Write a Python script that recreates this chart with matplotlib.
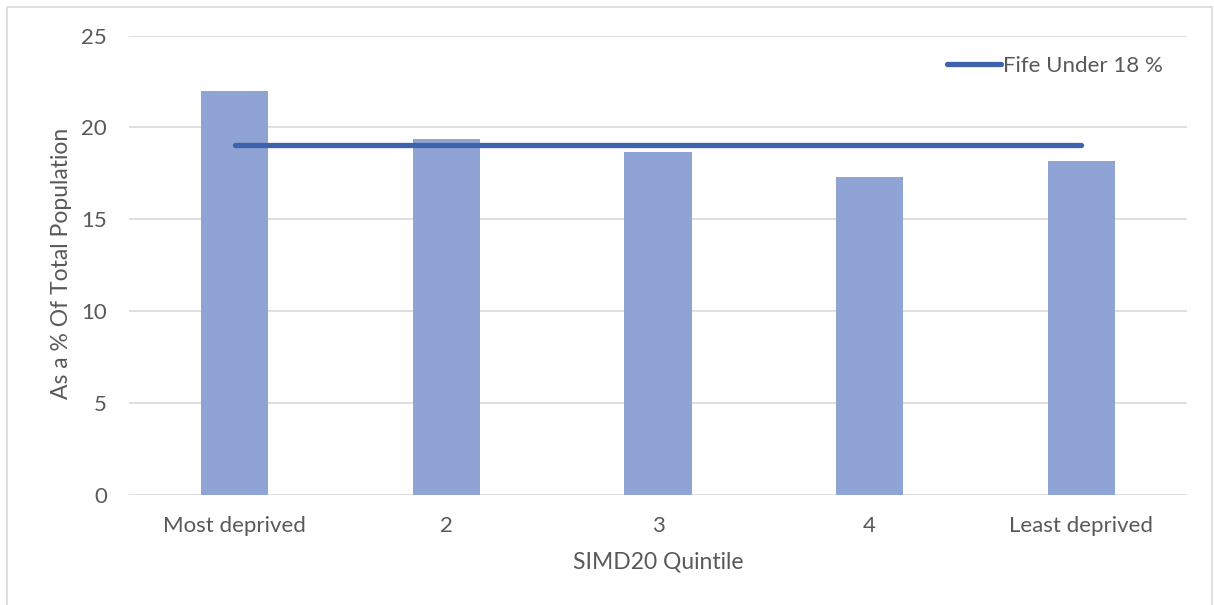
import matplotlib.pyplot as plt
from matplotlib.lines import Line2D

categories = ["Most deprived", "2", "3", "4", "Least deprived"]
under18_pct = [22.0, 19.35, 18.65, 17.3, 18.15]
fife_under18 = 19.05
yticks = [0, 5, 10, 15, 20, 25]

plt.rcParams['font.family'] = ['Lato', 'DejaVu Sans']
text_col = '#595959'

fig = plt.figure(figsize=(12.14, 6.05), dpi=100)
ax = fig.add_axes([129 / 1214, 1 - 495 / 605, (1187 - 129) / 1214, (495 - 35.6) / 605])

x = list(range(len(categories)))
ax.bar(x, under18_pct, width=0.317, color='#8FA3D4', zorder=2)
ax.plot(x, [fife_under18] * len(x), color='#3C63AC', lw=3.8, solid_capstyle='round',
        zorder=3)

ax.set_xlim(-0.5, len(categories) - 0.5)
ax.set_ylim(0, 25)
ax.set_yticks(yticks)
ax.set_xticks(x)
ax.set_xticklabels(categories)
ax.grid(axis='y', color='#D9D9D9', lw=1.2, zorder=0)
for s in ax.spines.values():
    s.set_visible(False)
ax.tick_params(length=0, colors=text_col, labelsize=16)
ax.tick_params(axis='x', pad=15)
ax.tick_params(axis='y', pad=16)

ax.set_xlabel("SIMD20 Quintile", color=text_col, fontsize=16.5, labelpad=11)
ax.set_ylabel("As a % Of Total Population", color=text_col, fontsize=16.5,
              va='center')
ax.yaxis.set_label_coords(-0.064, 0.505)

handle = Line2D([0], [0], color='#3C63AC', lw=3.8, solid_capstyle='round')
ax.legend([handle], ["Fife Under 18 %"], loc='upper right', frameon=False,
          fontsize=16, labelcolor=text_col, handlelength=2.4, handletextpad=0.1,
          bbox_to_anchor=(0.996, 1.0))

# light frame around the chart
frame = plt.Rectangle((7 / 1214, -0.01), 1205 / 1214, 1 - 7 / 605 + 0.01,
                      transform=fig.transFigure, fill=False, ec='#D9D9D9', lw=1.2)
fig.patches.append(frame)

fig.savefig("out.png", dpi=100)
